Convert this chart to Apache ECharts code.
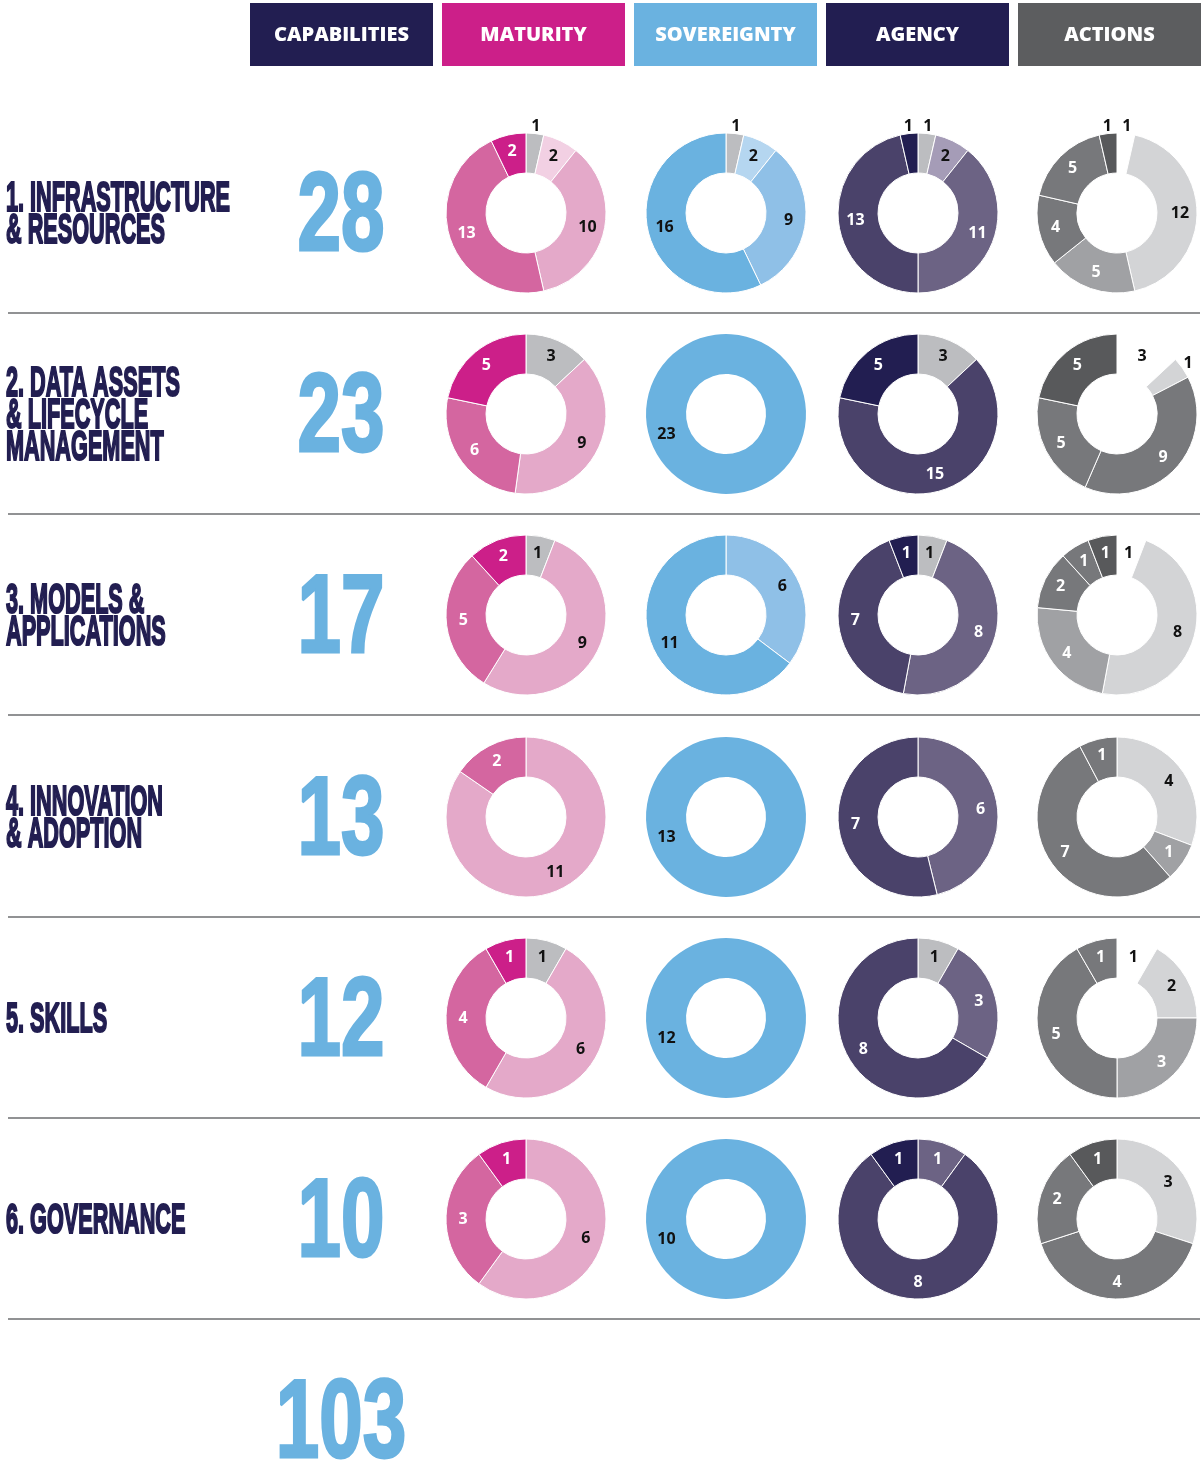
<!DOCTYPE html>
<html><head><meta charset="utf-8">
<script src="https://cdn.jsdelivr.net/npm/echarts@6/dist/echarts.min.js"></script>
<style>html,body{margin:0;padding:0;background:#fff}#c{width:1201px;height:1468px}</style>
</head><body><div id="c"></div>
<script>
// ---------- DATA ----------
const columnTitles = ['CAPABILITIES', 'MATURITY', 'SOVEREIGNTY', 'AGENCY', 'ACTIONS'];
const rowLabels = [
  ['1. INFRASTRUCTURE', '& RESOURCES'],
  ['2. DATA ASSETS', '& LIFECYCLE', 'MANAGEMENT'],
  ['3. MODELS &', 'APPLICATIONS'],
  ['4. INNOVATION', '& ADOPTION'],
  ['5. SKILLS'],
  ['6. GOVERNANCE']
];
const capabilities = [28, 23, 17, 13, 12, 10];
const totalCapabilities = 103;

// segments listed clockwise from 12 o'clock
const maturityKeys = ['Not assessed', 'Level 1', 'Level 2', 'Level 3', 'Level 4'];
const maturityValues = [
  [1, 2, 10, 13, 2],
  [3, 0, 9, 6, 5],
  [1, 0, 9, 5, 2],
  [0, 0, 11, 2, 0],
  [1, 0, 6, 4, 1],
  [0, 0, 6, 3, 1]
];
const sovereigntyKeys = ['Not assessed', 'Level 1', 'Level 2', 'Level 3'];
const sovereigntyValues = [
  [1, 2, 9, 16],
  [0, 0, 0, 23],
  [0, 0, 6, 11],
  [0, 0, 0, 13],
  [0, 0, 0, 12],
  [0, 0, 0, 10]
];
const agencyKeys = ['Not assessed', 'Level 1', 'Level 2', 'Level 3', 'Level 4'];
const agencyValues = [
  [1, 2, 11, 13, 1],
  [3, 0, 0, 15, 5],
  [1, 0, 8, 7, 1],
  [0, 0, 6, 7, 0],
  [1, 0, 3, 8, 0],
  [0, 0, 1, 8, 1]
];
const actionsKeys = ['None', 'Action 1', 'Action 2', 'Action 3a', 'Action 3b', 'Action 4'];
const actionsValues = [
  [1, 12, 5, 4, 5, 1],
  [3, 1, 0, 9, 5, 5],
  [1, 8, 4, 2, 1, 1],
  [0, 4, 1, 7, 1, 0],
  [1, 2, 3, 5, 1, 0],
  [0, 3, 0, 4, 2, 1]
];

// ---------- STYLE ----------
const headerColors = ['#221e51', '#cc1f89', '#6ab2e0', '#221e51', '#5c5d5f'];
const dims = [
  { keys: maturityKeys, values: maturityValues,
    colors: ['#bcbdc0', '#f2d0e3', '#e4a9c9', '#d466a0', '#cc1f89'],
    text:   ['#111', '#111', '#111', '#fff', '#fff'] },
  { keys: sovereigntyKeys, values: sovereigntyValues,
    colors: ['#bcbdc0', '#b5d6f0', '#8fc0e7', '#6ab2e0'],
    text:   ['#111', '#111', '#111', '#111'] },
  { keys: agencyKeys, values: agencyValues,
    colors: ['#bcbdc0', '#a59cb7', '#6c6384', '#4a426a', '#221e51'],
    text:   ['#111', '#111', '#fff', '#fff', '#fff'] },
  { keys: actionsKeys, values: actionsValues,
    colors: ['#ffffff', '#d3d4d6', '#a0a1a4', '#77787b', '#77787b', '#58595b'],
    text:   ['#111', '#111', '#fff', '#fff', '#fff', '#fff'] }
];
const colCenters = [526, 726, 918, 1117];
const rowCenters = [213, 414, 615, 817, 1018, 1219];

const chart = echarts.init(document.getElementById('c'), null, { renderer: 'canvas' });

// measure helper
const mctx = document.createElement('canvas').getContext('2d');
function measure(text, font) { mctx.font = font; return mctx.measureText(text).width; }

const condFamily = '"Liberation Sans Narrow", "Liberation Sans", Arial, sans-serif';
const labelFontSize = 43;
const labelFont = 'bold ' + labelFontSize + 'px ' + condFamily;
const labelScale = 224 / measure(rowLabels[0][0], labelFont);
const numFontSize = 112;
const numFont = 'bold ' + numFontSize + 'px ' + condFamily;
const numScale = 87 / measure(String(capabilities[0]), numFont);

const series = [];
const labelStyle = { fontFamily: '"Open Sans", sans-serif', fontWeight: 'bold', fontSize: 16 };
dims.forEach((d, ci) => {
  d.values.forEach((vals, ri) => {
    const total = vals.reduce((a, b) => a + b, 0);
    const main = [], outer = [];
    vals.forEach((v, k) => {
      if (!v) return;
      const small = v / total < 0.05;
      main.push({
        name: d.keys[k], value: v,
        itemStyle: { color: d.colors[k] },
        label: { show: !small, color: d.text[k] }
      });
      outer.push({
        name: d.keys[k], value: v,
        itemStyle: { color: 'rgba(0,0,0,0)' },
        label: { show: small, color: '#111' }
      });
    });
    // a full single-segment ring looks the same at any start angle; rotate so its label sits lower-left
    const start = main.length === 1 ? 19 : 90;
    series.push({
      type: 'pie', center: [colCenters[ci], rowCenters[ri]], radius: [40, 80],
      startAngle: start, clockwise: true, silent: true, animation: false,
      itemStyle: { borderColor: '#fff', borderWidth: main.length === 1 ? 0 : 1 },
      label: Object.assign({ position: 'inside', formatter: '{c}' }, labelStyle),
      labelLine: { show: false }, emphasis: { disabled: true },
      data: main
    });
    series.push({
      type: 'pie', center: [colCenters[ci], rowCenters[ri]], radius: [74, 94],
      startAngle: start, clockwise: true, silent: true, animation: false,
      label: Object.assign({ position: 'inside', formatter: '{c}' }, labelStyle),
      labelLine: { show: false }, emphasis: { disabled: true },
      data: outer
    });
  });
});

const graphic = [];
columnTitles.forEach((t, i) => {
  const x = 250 + i * 192;
  graphic.push({ type: 'rect', shape: { x: x, y: 3, width: 183, height: 63 }, style: { fill: headerColors[i] }, silent: true });
  graphic.push({ type: 'text', x: x + 91.5, y: 35, silent: true,
    style: { text: t, fill: '#fff', font: '800 20px "Open Sans", sans-serif',
      textAlign: 'center', textVerticalAlign: 'middle', align: 'center', verticalAlign: 'middle' } });
});
rowCenters.forEach((cy) => {
  graphic.push({ type: 'line', shape: { x1: 8, y1: cy + 100, x2: 1200, y2: cy + 100 },
    style: { stroke: '#6d6e70', lineWidth: 1.5 }, silent: true });
});
rowLabels.forEach((lines, ri) => {
  const n = lines.length;
  lines.forEach((ln, j) => {
    const yc = rowCenters[ri] + (j - (n - 1) / 2) * 32;
    graphic.push({ type: 'text', x: 6, y: yc + 2, scaleX: labelScale, silent: true,
      style: { text: ln, fill: '#221e51', font: labelFont, stroke: '#221e51', lineWidth: 2.2,
        textAlign: 'left', textVerticalAlign: 'middle', align: 'left', verticalAlign: 'middle' } });
  });
});
capabilities.forEach((c, ri) => {
  graphic.push({ type: 'text', x: 341, y: rowCenters[ri] + 6, scaleX: numScale, silent: true,
    style: { text: String(c), fill: '#6ab2e0', font: numFont, stroke: '#6ab2e0', lineWidth: 3,
      textAlign: 'center', textVerticalAlign: 'middle', align: 'center', verticalAlign: 'middle' } });
});
graphic.push({ type: 'text', x: 341, y: 1426, scaleX: numScale, silent: true,
  style: { text: String(totalCapabilities), fill: '#6ab2e0', font: numFont, stroke: '#6ab2e0', lineWidth: 3,
    textAlign: 'center', textVerticalAlign: 'middle', align: 'center', verticalAlign: 'middle' } });

chart.setOption({ backgroundColor: '#fff', animation: false, series: series, graphic: { elements: graphic } });
</script></body></html>
